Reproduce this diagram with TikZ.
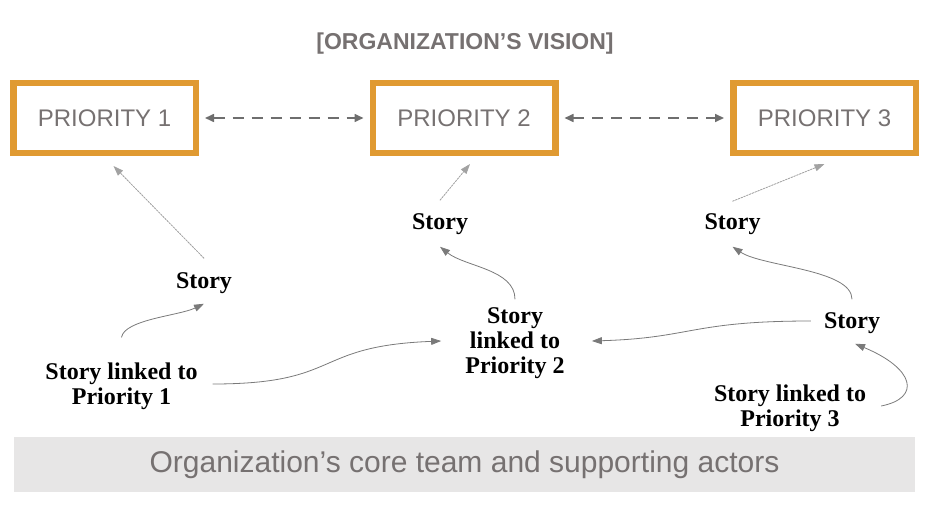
\documentclass[tikz,border=0pt]{standalone}
\usepackage{fontspec}
\setmainfont{Liberation Serif}
\setsansfont{Liberation Sans}
\usepackage{tikz}
\usetikzlibrary{positioning,arrows.meta}
\definecolor{prioorange}{HTML}{E09A32}
\definecolor{textgray}{HTML}{767171}
\definecolor{linkgray}{HTML}{7A7A7A}
\definecolor{bandgray}{HTML}{E7E6E6}

\begin{document}
\begin{tikzpicture}[x=1pt,y=-1pt,
    prio/.style={draw=prioorange, line width=6.5pt, minimum width=182.5pt, minimum height=69.5pt,
        inner sep=0pt, text=textgray, font=\sffamily\fontsize{24}{28}\selectfont},
    story/.style={inner sep=2pt, align=center, font=\bfseries\fontsize{24}{25}\selectfont},
    peer/.style={draw=linkgray!90!black, line width=1.6pt, dash pattern=on 11pt off 8pt,
        {Triangle[length=9pt,width=8pt]}-{Triangle[length=9pt,width=8pt]}},
    rise/.style={draw=linkgray!70, line width=0.8pt, dash pattern=on 2pt off 1pt,
        -{Triangle[length=10pt,width=7pt]}, fill=linkgray},
    link/.style={draw=linkgray, line width=0.8pt, -{Triangle[length=10pt,width=7pt]}}]
    \useasboundingbox (0,0) rectangle (936,508);

    % vision and priorities
    \node[text=textgray, font=\sffamily\bfseries\fontsize{23}{26}\selectfont] (vision) at (465,44) {[ORGANIZATION’S VISION]};
    \node[prio] (p1) at (104.5,118) {PRIORITY 1};
    \node[prio] (p2) at (464,118) {PRIORITY 2};
    \node[prio] (p3) at (824.5,118) {PRIORITY 3};
    \draw[peer, shorten <=6pt, shorten >=6pt] (p1.east) -- (p2.west);
    \draw[peer, shorten <=6pt, shorten >=6pt] (p2.east) -- (p3.west);

    % stories
    \node[story] (s1) at (204,283) {Story};
    \node[story] (l1) at (121.5,386) {Story linked to\\Priority 1};
    \node[story] (s2) at (440,224) {Story};
    \node[story] (l2) at (515,343) {Story\\linked to\\Priority 2};
    \node[story] (s3) at (732.5,224) {Story};
    \node[story] (s4) at (852,323) {Story};
    \node[story] (l3) at (790,408) {Story linked to\\Priority 3};

    \draw[rise] ([yshift=12pt]s1.north) -- ([xshift=9pt,yshift=-10pt]p1.south);
    \draw[rise] ([yshift=11pt]s2.north) -- ([xshift=6pt,yshift=-8pt]p2.south);
    \draw[rise] ([yshift=10pt]s3.north) -- ([yshift=-8pt]p3.south);

    \draw[link] ([yshift=23pt]l1.north) .. controls +(3,-18) and +(-25,12) .. ([yshift=-8pt]s1.south);
    \draw[link] ([xshift=13pt,yshift=2pt]l1.east) .. controls +(130,0) and +(-130,5) .. ([xshift=-22pt,yshift=2pt]l2.west);
    \draw[link] ([yshift=6pt]l2.north) .. controls +(0,-30) and +(25,20) .. ([yshift=-10pt]s2.south);
    \draw[link] ([xshift=-11pt,yshift=2pt]s4.west) .. controls +(-120,0) and +(100,-3) .. ([xshift=25pt,yshift=2pt]l2.east);
    \draw[link] ([yshift=11pt]s4.north) .. controls +(0,-30) and +(30,20) .. ([yshift=-10pt]s3.south);
    \draw[link] ([xshift=13pt,yshift=2pt]l3.east) .. controls +(40,-8) and +(60,25) .. ([xshift=3pt,yshift=-8pt]s4.south);

    % team band
    \node[fill=bandgray, minimum width=901pt, minimum height=55pt, inner sep=0pt, text=textgray,
        font=\sffamily\fontsize{30}{34}\selectfont] (team) at (464.5,464.5) {Organization’s core team and supporting actors};
\end{tikzpicture}
\end{document}
